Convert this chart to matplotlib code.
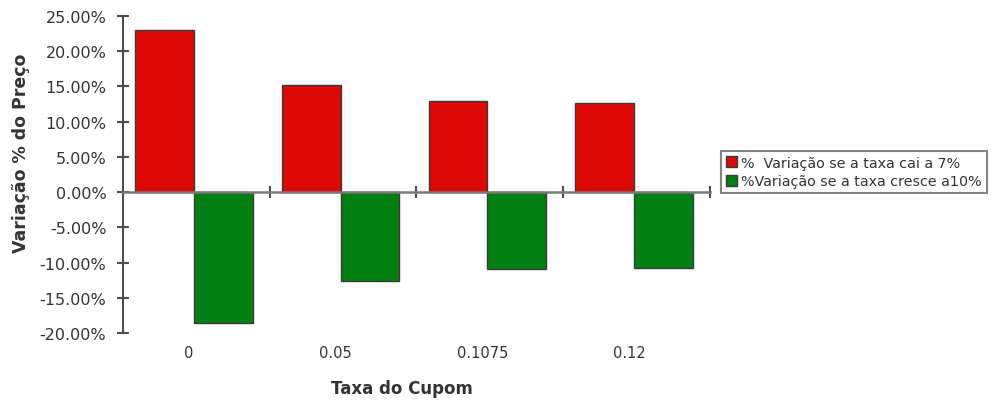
import matplotlib
matplotlib.use('Agg')
import matplotlib.pyplot as plt
import matplotlib.transforms as mtransforms
import numpy as np

# dados
categorias = ['0', '0.05', '0.1075', '0.12']
cai_7 = [23.0, 15.2, 12.9, 12.6]
cresce_10 = [-18.6, -12.6, -10.9, -10.7]
rotulos = ['%  Variação se a taxa cai a 7%', '%Variação se a taxa cresce a10%']
y_ticks = [-20, -15, -10, -5, 0, 5, 10, 15, 20, 25]

plt.rcParams['font.family'] = ['DejaVu Sans']

cor_texto = '#333333'
cor_eixo = '#4d4d4d'

fig = plt.figure(figsize=(10, 4.02), dpi=100)
ax = fig.add_axes([0.123, 0.169, 0.5867, 0.789])

x = np.arange(len(categorias))
larg = 0.4
ax.bar(x - larg / 2 - 0.015, cai_7, larg, color='#dd0806', edgecolor='#3a3a3a',
       linewidth=1, label=rotulos[0], zorder=2)
ax.bar(x + larg / 2 - 0.015, cresce_10, larg, color='#008011', edgecolor='#3a3a3a',
       linewidth=1, label=rotulos[1], zorder=2)

ax.set_xlim(-0.5, len(categorias) - 0.5)
ax.set_ylim(-20, 25)
ax.set_yticks(y_ticks)
ax.set_yticklabels(['%.2f%%' % v for v in y_ticks])

for s in ['top', 'right']:
    ax.spines[s].set_visible(False)
ax.spines['left'].set_color(cor_eixo)
ax.spines['left'].set_linewidth(1.5)
ax.spines['bottom'].set_position(('data', 0))
ax.spines['bottom'].set_color('#7a7a7a')
ax.spines['bottom'].set_linewidth(1.8)
ax.spines['bottom'].set_zorder(3)

# divisões entre categorias no eixo do zero
ax.set_xticks(x + 0.5)
ax.tick_params(axis='x', direction='inout', length=8, width=1.5, color=cor_eixo,
               labelbottom=False)
ax.tick_params(axis='y', direction='inout', length=8, width=1.5, color=cor_eixo,
               labelsize=11.5, labelcolor=cor_texto, pad=8)

trans = mtransforms.blended_transform_factory(ax.transData, ax.transAxes)
for i, c in enumerate(categorias):
    ax.text(i - 0.05, -0.06, c, transform=trans, ha='center', va='center',
            fontsize=10.5, color=cor_texto)

fig.text(0.402, 0.032, 'Taxa do Cupom', ha='center', va='center',
         fontsize=12, fontweight='bold', color=cor_texto)
fig.text(0.021, 0.619, 'Variação % do Preço', ha='center', va='center',
         rotation=90, fontsize=12.5, fontweight='bold', color=cor_texto)

leg = fig.legend(loc='upper left', bbox_to_anchor=(0.7207, 0.6226), fontsize=10.3,
                 frameon=True, fancybox=False, edgecolor='#666666',
                 handlelength=0.8, handleheight=0.8, handletextpad=0.3,
                 borderpad=0.35, labelspacing=0.3, borderaxespad=0)
leg.get_frame().set_linewidth(1.5)
for t in leg.get_texts():
    t.set_color(cor_texto)

fig.savefig('out.png', dpi=100)
